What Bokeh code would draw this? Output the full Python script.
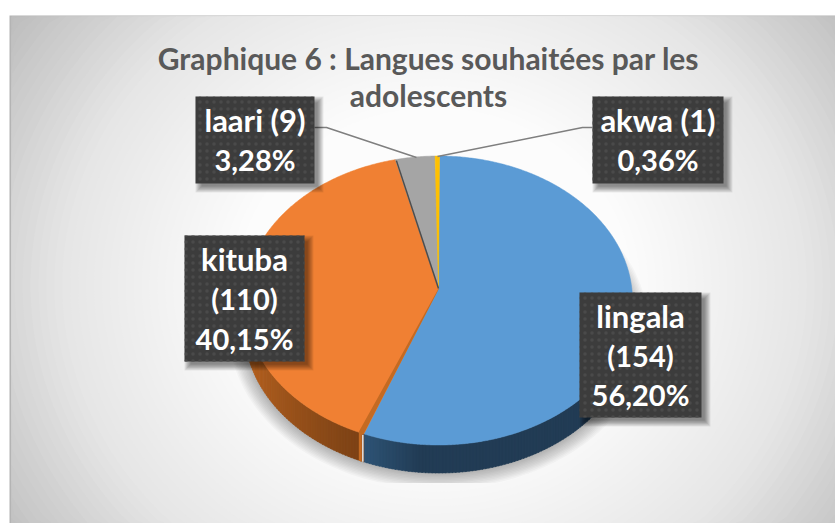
import numpy as np
from bokeh.plotting import figure
from bokeh.models import Range1d
from bokeh.embed import file_html
from bokeh.resources import INLINE
from bokeh.core.properties import value

# ---- data
categories = ["lingala", "kituba", "laari", "akwa"]
counts = [154, 110, 9, 1]
percents = ["56,20%", "40,15%", "3,28%", "0,36%"]
title_lines = ["Graphique 6 : Langues souhaitées par les", "adolescents"]

# ---- styling / layout
W, H = 835, 523
OX, OY = 0, 0
FONT = value("Lato")
top_colors = {"lingala": "#5b9bd5", "akwa": "#ffc000", "laari": "#a5a5a5", "kituba": "#f08033"}
wall_light = {"lingala": (47, 85, 119), "kituba": (200, 108, 36)}
wall_dark = {"lingala": (34, 60, 85), "kituba": (124, 66, 22)}
CX, CY, RX, RY = 438.0, 300.0, 194.0, 144.5
APEX = (438.0, 288.0)
DEPTH = 28.0
START = 0.3  # degrees clockwise from the top
X0, Y0, X1, Y1 = 9, 15, OX + W, OY + H

p = figure(width=W, height=H, x_range=Range1d(OX, OX + W), y_range=Range1d(OY + H, OY),
           toolbar_location=None, output_backend="svg", min_border=0, outline_line_color=None,
           background_fill_color="white", border_fill_color="white")
p.axis.visible = False
p.grid.visible = False


def ellipse(cx, cy, a, b, n=180):
    t = np.linspace(0, 2 * np.pi, n)
    return cx + a * np.cos(t), cy + b * np.sin(t)


# ---- background: radial gradient built of nested ellipses, clipped to the chart area
bx, by = 434.0, 285.0
gx, gy, gc = [], [], []
p.quad(left=X0, right=X1, top=Y0, bottom=Y1, fill_color="#b4b4b4", line_color=None)
for d in np.linspace(1.3, 0.3, 64):
    ex, ey = ellipse(bx, by, 500 * d, 450 * d)
    gx.append(np.clip(ex, X0 + 2, X1))
    gy.append(np.clip(ey, Y0 + 1, Y1))
    v = int(np.interp(d, [0, .4, .6, .76, .85, 1.04, 1.3], [255, 252, 240, 229, 216, 190, 170]))
    gc.append("#%02x%02x%02x" % (v, v, v))
p.patches(gx, gy, fill_color=gc, line_color=None)

# ---- soft shadow under the pie
for off in np.linspace(16, 0, 12):
    ex, ey = ellipse(CX, CY + DEPTH, RX + off, RY + off)
    p.patch(ex, np.minimum(ey, 482.5), fill_color="#000000", fill_alpha=0.028, line_color=None)

# ---- pie geometry derived from the counts
vals = np.array(counts, float)
ends = START + np.cumsum(vals) / vals.sum() * 360
starts = np.r_[START, ends[:-1]]


def arc(a0, a1, n):
    t = np.radians(np.linspace(a0, a1, n))
    return CX + RX * np.sin(t), CY - RY * np.cos(t)


# side walls: thin strips of the visible front half with a colour ramp
for cat, a0, a1 in zip(categories, starts, ends):
    lo, hi = max(a0, 90), min(a1, 270)
    if hi <= lo:
        continue
    n = int(hi - lo) + 2
    ts = np.linspace(lo, hi, n)
    for i in range(n - 1):
        ax, ay = arc(ts[i], ts[i + 1] + 0.3, 4)
        if cat == "kituba":
            f = 1 - (ts[i] - lo) / (hi - lo)
        else:
            f = 1 - np.clip((ts[i] - (hi - 18)) / 18, 0, 1)
        c0, c1 = wall_light[cat], wall_dark[cat]
        col = "#%02x%02x%02x" % tuple(int(c0[k] + (c1[k] - c0[k]) * f) for k in range(3))
        p.patch(np.r_[ax, ax[::-1]], np.r_[ay, ay[::-1] + DEPTH], fill_color=col, line_color=col, line_width=0.5)

# top faces
for cat, a0, a1 in zip(categories, starts, ends):
    ax, ay = arc(a0, a1, max(int(a1 - a0) * 2 + 2, 3))
    p.patch(np.r_[APEX[0], ax], np.r_[APEX[1], ay], fill_color=top_colors[cat],
            line_color=top_colors[cat], line_width=0.5)

# orange cut face and pale seam at the front boundary of lingala / kituba
bnd = ends[0]
ex_, ey_ = arc(bnd, bnd, 1)
p.line([ex_[0] - 1, ex_[0] - 1], [ey_[0] + 1, ey_[0] + DEPTH], line_color="#e4e9ee", line_width=1.5)
p.patch([APEX[0], ex_[0] - 5, ex_[0] - 5, ex_[0] - 2, ex_[0] - 2, ex_[0], APEX[0] + 0.5],
        [APEX[1], ey_[0] - 2, ey_[0] + DEPTH - 1, ey_[0] + DEPTH, ey_[0] + 1, ey_[0], APEX[1]],
        fill_color="#c46a22", line_color=None)

# dark cut face between grey and orange
kx, ky = arc(ends[1], ends[1], 1)
p.line([kx[0] + 1, APEX[0]], [ky[0] + 1, APEX[1]], line_color="#4d4d4d", line_width=1.5)

# ---- leader lines
p.line([314, 326, 416], [127, 127, 157], line_color="#7f7f7f", line_width=1.5)
p.line([592, 582, 437], [127, 127, 156], line_color="#7f7f7f", line_width=1.5)

# ---- label boxes
boxes = {"laari": (195, 96, 314, 183), "akwa": (592, 96, 723, 183),
         "kituba": (184, 235, 304, 361), "lingala": (579, 292, 701, 417)}
wrap = {"kituba", "lingala"}
for cat, cnt, pct in zip(categories, counts, percents):
    x0, y0, x1, y1 = boxes[cat]
    for k in np.linspace(-1, 5, 8):
        p.quad(left=x0 + 5 - k, right=x1 + 4 + k, top=y0 + 5 - k, bottom=y1 + 4 + k,
               fill_color="#000000", fill_alpha=0.065, line_color=None)
    p.quad(left=x0, right=x1, top=y0, bottom=y1, fill_color="#3c3c3c", line_color=None,
           hatch_pattern="dot", hatch_color="#4a4a4a", hatch_scale=7, hatch_weight=1)
    lines = [cat, f"({cnt})", pct] if cat in wrap else [f"{cat} ({cnt})", pct]
    sizes = ["31px", "29px", "29px"] if cat in wrap else ["31px", "29px"]
    lh = 39.5
    ys = (y0 + y1) / 2 + (np.arange(len(lines)) - (len(lines) - 1) / 2) * lh
    for line, yy, size in zip(lines, ys, sizes):
        p.text(x=[(x0 + x1) / 2], y=[yy], text=[line], text_font=FONT, text_font_style="bold",
               text_font_size=size, text_color="white", text_align="center", text_baseline="middle")

# ---- title
p.text(x=[428, 428], y=[57, 94], text=title_lines, text_font=FONT, text_font_style="bold",
       text_font_size="30px", text_color="#595959", text_align="center", text_baseline="middle")

open("out.html", "w").write(file_html(p, INLINE))
